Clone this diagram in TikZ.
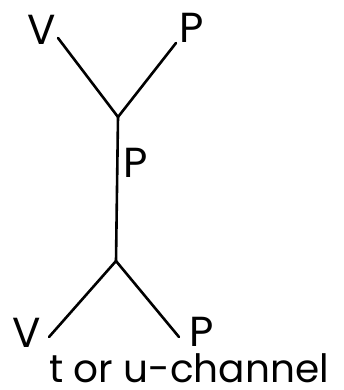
\documentclass[tikz,border=0pt]{standalone}
\usepackage{fontspec}
\setmainfont{Poppins}
\begin{document}
\begin{tikzpicture}[x=1pt,y=-1pt,
  leg/.style={line width=2.6pt,line cap=round},
  lbl/.style={inner sep=0pt,text depth=0pt,font=\fontsize{42}{42}\selectfont}]
\useasboundingbox (0,0) rectangle (343,390);
\coordinate (up) at (118,117);
\coordinate (lo) at (116,261);
\coordinate (tl) at (58,38);
\coordinate (tr) at (176,43);
\coordinate (bl) at (49,337);
\coordinate (br) at (179,337);
\node[lbl,anchor=base] (V1) at (42,45) {V};
\node[lbl,anchor=base] (P1) at (192,43) {P};
\node[lbl,anchor=base] (P2) at (136,177) {P};
\node[lbl,anchor=base] (V2) at (27,347) {V};
\node[lbl,anchor=base] (P3) at (202,346) {P};
\node[lbl,anchor=base,text height=28pt,font=\fontsize{39}{39}\selectfont] (ch) at (189,382) {t or u-channel};
\draw[leg] (tl) -- (up) -- (tr);
\draw[leg] (up) -- (lo);
\draw[leg] (bl) -- (lo) -- (br);
\end{tikzpicture}
\end{document}
